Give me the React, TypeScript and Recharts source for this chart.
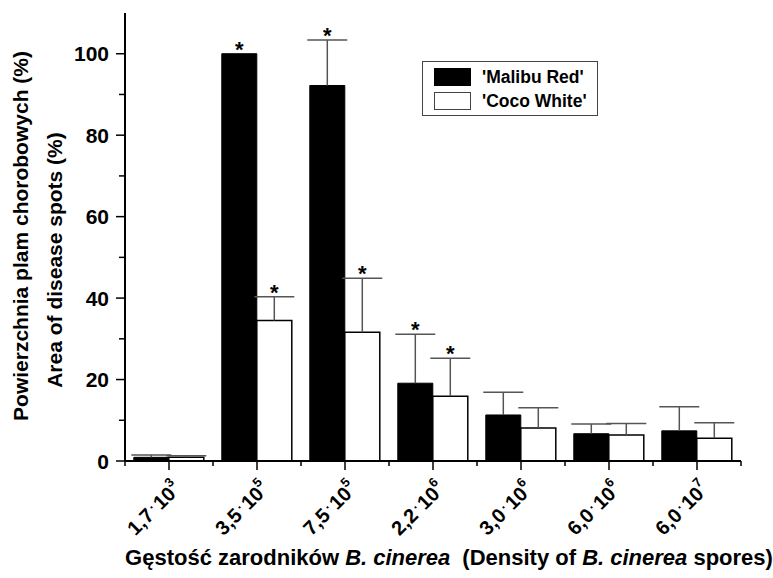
import React from 'react';
import { BarChart, Bar, XAxis, YAxis, ErrorBar, LabelList } from 'recharts';

const mantissas = ['1,7', '3,5', '7,5', '2,2', '3,0', '6,0', '6,0'];
const exponents = ['3', '5', '5', '6', '6', '6', '7'];
const seriesNames = ["'Malibu Red'", "'Coco White'"];
const malibuRed = [0.9, 100, 92.2, 19.1, 11.3, 6.7, 7.4];
const malibuRedErr = [0.6, 0, 11.2, 12.0, 5.6, 2.4, 5.9];
const malibuRedSig = [false, true, true, true, false, false, false];
const cocoWhite = [0.9, 34.5, 31.6, 15.9, 8.1, 6.4, 5.6];
const cocoWhiteErr = [0.4, 5.8, 13.3, 9.3, 5.0, 2.8, 3.8];
const cocoWhiteSig = [false, true, true, true, false, false, false];
const yTicks = [0, 10, 20, 30, 40, 50, 60, 70, 80, 90, 100];

const FONT = '"Liberation Sans", Arial, sans-serif';

const data = mantissas.map((m, i) => ({
  name: `${m}·10^${exponents[i]}`,
  mr: malibuRed[i],
  mrErr: malibuRedErr[i] ? [0, malibuRedErr[i]] : null,
  cw: cocoWhite[i],
  cwErr: cocoWhiteErr[i] ? [0, cocoWhiteErr[i]] : null,
}));

const YTick = (props: any) => {
  const { x, y, payload } = props;
  const major = payload.value % 20 === 0;
  return (
    <g>
      <line x1={x} x2={x - (major ? 9 : 6)} y1={y} y2={y} stroke="#000" strokeWidth={1.5} />
      {major && (
        <text x={x - 16} y={y} dy={7.5} textAnchor="end" fontSize={21} fontWeight="bold" fontFamily={FONT} fill="#000">
          {payload.value}
        </text>
      )}
    </g>
  );
};

const XTick = (props: any) => {
  const { x, y, payload, index, width, visibleTicksCount } = props;
  const i = data.findIndex((d) => d.name === payload.value);
  const half = width / visibleTicksCount / 2;
  const axisY = y - 9;
  return (
    <g>
      <line x1={x - half} x2={x - half} y1={axisY} y2={axisY + 5} stroke="#000" strokeWidth={1.5} />
      {index === visibleTicksCount - 1 && (
        <line x1={x + half} x2={x + half} y1={axisY} y2={axisY + 5} stroke="#000" strokeWidth={1.5} />
      )}
      <g transform={`translate(${x + 13},${y + 20})`}>
        <text transform="rotate(-45)" textAnchor="end" fontSize={20} fontWeight="bold" fontFamily={FONT} fill="#000">
          <tspan>{mantissas[i]}</tspan>
          <tspan dx={2} dy={-5} fontSize={13}>·</tspan>
          <tspan dx={2} dy={5}>10</tspan>
          <tspan dy={-10} fontSize={13}>{exponents[i]}</tspan>
        </text>
      </g>
    </g>
  );
};

const makeStar = (vals: number[], errs: number[], sig: boolean[]) => (props: any) => {
  const vb = props.viewBox ?? props;
  const { x, y, width, height } = vb;
  const i = props.index;
  if (i == null || !sig[i]) return null;
  const v = vals[i];
  const e = errs[i] || 0;
  const top = y - (height / v) * e;
  return (
    <text x={x + width / 2} y={top + 3} textAnchor="middle" fontSize={22} fontWeight="bold" fontFamily={FONT} fill="#000">
      *
    </text>
  );
};

const YLabel = () => (
  <g>
    <text transform="translate(28,236) rotate(-90)" textAnchor="middle" fontSize={21} fontWeight="bold" fontFamily={FONT} fill="#000">
      Powierzchnia plam chorobowych (%)
    </text>
    <text transform="translate(62,260) rotate(-90)" textAnchor="middle" fontSize={21} fontWeight="bold" fontFamily={FONT} fill="#000">
      Area of disease spots (%)
    </text>
  </g>
);

const XLabel = () => (
  <text x={449} y={565} textAnchor="middle" fontSize={22} fontWeight="bold" fontFamily={FONT} fill="#000">
    <tspan>Gęstość zarodników </tspan>
    <tspan fontStyle="italic">B. cinerea</tspan>
    <tspan dx={12}>(Density of </tspan>
    <tspan fontStyle="italic">B. cinerea</tspan>
    <tspan> spores)</tspan>
  </text>
);

const LegendBox = () => (
  <div
    style={{
      position: 'absolute',
      left: 422,
      top: 61,
      width: 176,
      height: 55,
      border: '1px solid #444',
      background: '#fff',
      fontFamily: FONT,
      fontWeight: 'bold',
      fontSize: 17.5,
      boxSizing: 'border-box',
    }}
  >
    {seriesNames.map((n, k) => (
      <div key={n} style={{ position: 'absolute', left: 11, top: 6 + k * 24, display: 'flex', alignItems: 'center' }}>
        <div
          style={{
            width: 37,
            height: 18,
            boxSizing: 'border-box',
            background: k === 0 ? '#000' : '#fff',
            border: k === 0 ? '1px solid #000' : '1.5px solid #444',
          }}
        />
        <span style={{ marginLeft: 11, lineHeight: '18px', color: '#000' }}>{n}</span>
      </div>
    ))}
  </div>
);

export default function App() {
  return (
    <div style={{ position: 'absolute', left: 0, top: 0, width: 773, height: 578, background: '#fff' }}>
      <style>{'.recharts-errorBar line:nth-of-type(3){display:none}'}</style>
      <BarChart
        width={773}
        height={578}
        data={data}
        margin={{ top: 13, right: 32, bottom: 0, left: 0 }}
        barCategoryGap="10%"
        barGap={0}
      >
        <XAxis
          dataKey="name"
          height={117}
          axisLine={{ stroke: '#000', strokeWidth: 2 }}
          tickLine={{ stroke: '#000', strokeWidth: 1.5 }}
          tickSize={9}
          tickMargin={0}
          tick={<XTick />}
          interval={0}
          label={<XLabel />}
        />
        <XAxis xAxisId="top" dataKey="name" orientation="top" height={0} tick={false} tickLine={false} axisLine={{ stroke: '#000', strokeWidth: 2 }} />
        <YAxis
          domain={[0, 110]}
          ticks={yTicks}
          width={125}
          axisLine={{ stroke: '#000', strokeWidth: 2 }}
          tickLine={false}
          tickSize={0}
          tickMargin={0}
          tick={<YTick />}
          interval={0}
          label={<YLabel />}
        />
        <YAxis yAxisId="right" orientation="right" width={0} domain={[0, 110]} tick={false} tickLine={false} axisLine={{ stroke: '#000', strokeWidth: 2 }} />
        <Bar dataKey="mr" name={seriesNames[0]} fill="#000" stroke="#000" strokeWidth={1} isAnimationActive={false}>
          <ErrorBar dataKey="mrErr" width={20} stroke="#555" strokeWidth={1.5} direction="y" />
          <LabelList dataKey="mr" content={makeStar(malibuRed, malibuRedErr, malibuRedSig)} />
        </Bar>
        <Bar dataKey="cw" name={seriesNames[1]} fill="#fff" stroke="#000" strokeWidth={1.5} isAnimationActive={false}>
          <ErrorBar dataKey="cwErr" width={20} stroke="#555" strokeWidth={1.5} direction="y" />
          <LabelList dataKey="cw" content={makeStar(cocoWhite, cocoWhiteErr, cocoWhiteSig)} />
        </Bar>
      </BarChart>
      <LegendBox />
    </div>
  );
}
